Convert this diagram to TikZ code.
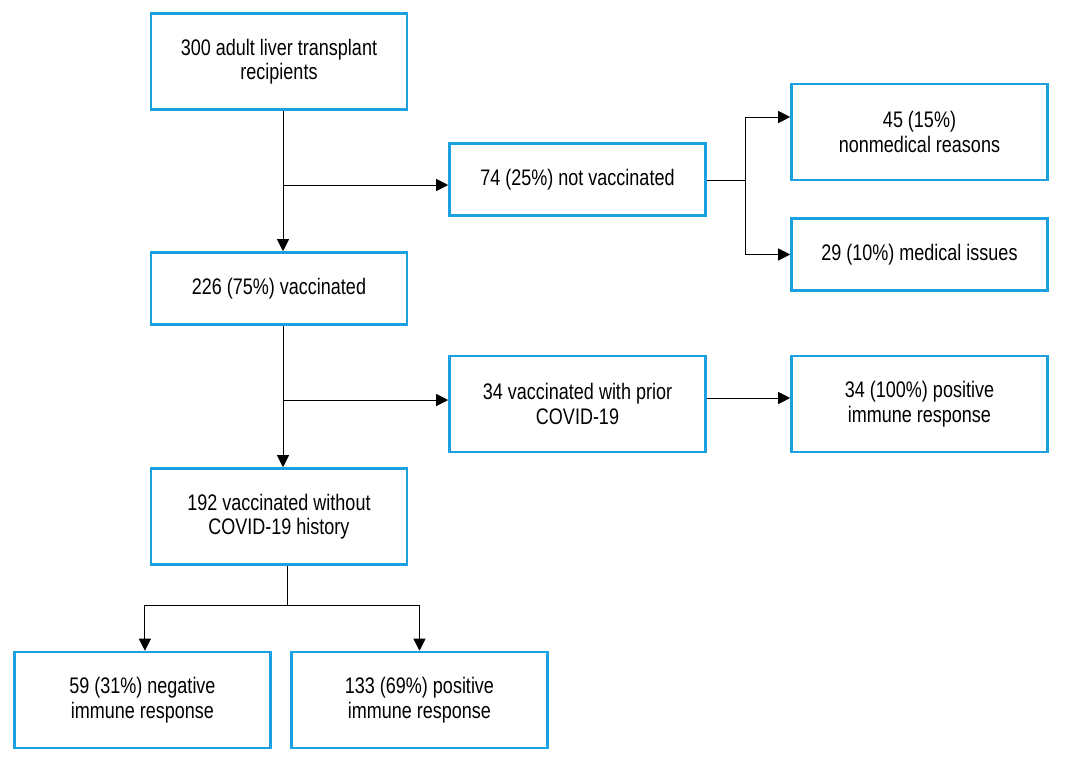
\documentclass[tikz,border=0pt]{standalone}
\usepackage{fontspec}
\setmainfont[FakeStretch=0.8]{Liberation Sans}
\usepackage{tikz}
\usetikzlibrary{arrows.meta,positioning}
\definecolor{boxblue}{RGB}{27,161,226}

\begin{document}
\begin{tikzpicture}[
			x = 0.025cm, y = -0.025cm,
			every node/.style = {font = \fontsize{16}{17.5}\selectfont},
			box/.style = {draw = boxblue, line width = 1.8pt, minimum width = 6.4cm, align = center, inner sep = 0pt},
			tallbox/.style = {box, minimum height = 2.4cm},
			lowbox/.style = {box, minimum height = 1.8cm},
			arr/.style = {-{Triangle[length = 0.3cm, width = 0.3cm]}, line width = 0.7pt}
			]

			\useasboundingbox (0,0) rectangle (1070,769);

			% main column
			\node[tallbox] (total) at (279,61.5) {300 adult liver transplant\\recipients};
			\node[lowbox] (vacc) at (279,288.5) {226 (75\%) vaccinated};
			\node[tallbox] (nohist) at (279,516.5) {192 vaccinated without\\COVID-19 history};

			% side boxes
			\node[lowbox] (notvacc) at (577.5,179.5) {74 (25\%) not vaccinated};
			\node[tallbox] (prior) at (577.5,404) {34 vaccinated with prior\\COVID-19};
			\node[tallbox] (nonmed) at (919.5,132) {45 (15\%)\\nonmedical reasons};
			\node[lowbox] (med) at (919.5,254.5) {29 (10\%) medical issues};
			\node[tallbox] (priorpos) at (919.5,404) {34 (100\%) positive\\immune response};

			% outcome boxes
			\node[tallbox] (neg) at (142.5,700) {59 (31\%) negative\\immune response};
			\node[tallbox] (pos) at (419.5,700) {133 (69\%) positive\\immune response};

			% connectors
			\coordinate (s1) at (283,185);
			\coordinate (s2) at (283,400);
			\coordinate (s3) at (745,180);
			\coordinate (s4) at (287,605);

			\draw[arr] (total.south -| s1) -- (vacc.north -| s1);
			\draw[arr] (s1) -- (s1 -| notvacc.west);
			\draw[arr] (vacc.south -| s2) -- (nohist.north -| s2);
			\draw[arr] (s2) -- (s2 -| prior.west);

			\draw[line width = 0.7pt] (notvacc.east |- s3) -- (s3);
			\draw[arr] (s3) |- ([yshift = 0.375cm]nonmed.west);
			\draw[arr] (s3) |- (med.west);
			\draw[arr] ([yshift = 0.15cm]prior.east) -- ([yshift = 0.15cm]priorpos.west);

			\draw[line width = 0.7pt] (nohist.south -| s4) -- (s4);
			\draw[arr] (s4) -| ([xshift = 0.06cm]neg.north);
			\draw[arr] (s4) -| (pos.north);

		\end{tikzpicture}
\end{document}
